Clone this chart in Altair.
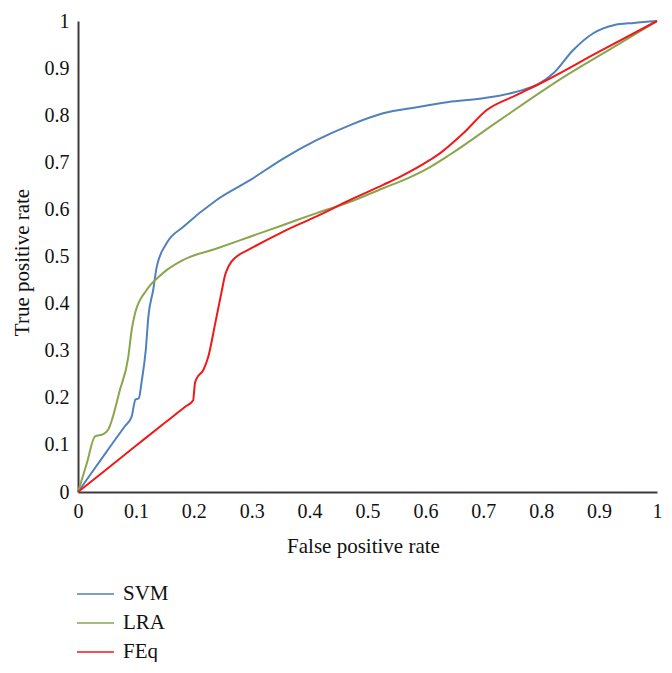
import altair as alt
import pandas as pd

svm_x = [0, 0.03, 0.06, 0.08, 0.0927, 0.0956, 0.099, 0.105, 0.110, 0.117, 0.1215, 0.130, 0.136,
         0.153, 0.182, 0.2395, 0.297, 0.3546, 0.412, 0.470, 0.527, 0.585, 0.640, 0.700, 0.758,
         0.798, 0.821, 0.855, 0.89, 0.925, 0.96, 1.0]
svm_y = [0, 0.052, 0.104, 0.138, 0.160, 0.178, 0.196, 0.199, 0.235, 0.301, 0.372, 0.430, 0.478,
         0.528, 0.563, 0.620, 0.662, 0.708, 0.747, 0.779, 0.804, 0.817, 0.828, 0.836, 0.850,
         0.868, 0.889, 0.938, 0.974, 0.991, 0.996, 1.0]

lra_x = [0, 0.015, 0.0294, 0.0437, 0.052, 0.0725, 0.0869, 0.0927, 0.0984, 0.1186, 0.1416, 0.153,
         0.182, 0.2395, 0.297, 0.3546, 0.412, 0.470, 0.527, 0.556, 0.608, 0.642, 0.729,
         0.844, 0.92, 1.0]
lra_y = [0, 0.060, 0.118, 0.123, 0.132, 0.217, 0.287, 0.344, 0.379, 0.429, 0.459, 0.471,
         0.493, 0.517, 0.542, 0.567, 0.592, 0.616, 0.645, 0.659, 0.690, 0.716, 0.790,
         0.885, 0.941, 1.0]

feq_x = [0, 0.05, 0.10, 0.15, 0.185, 0.199, 0.2005, 0.202, 0.205, 0.2165, 0.225, 0.237, 0.248,
         0.254, 0.2568, 0.265, 0.274, 0.297, 0.3546, 0.412, 0.470, 0.527, 0.556, 0.608, 0.625,
         0.665, 0.706, 0.758, 0.804, 0.90, 1.0]
feq_y = [0, 0.049, 0.098, 0.147, 0.181, 0.195, 0.213, 0.231, 0.241, 0.259, 0.287, 0.358, 0.425,
         0.460, 0.470, 0.489, 0.500, 0.516, 0.553, 0.585, 0.620, 0.652, 0.669, 0.705, 0.719,
         0.761, 0.811, 0.843, 0.871, 0.935, 1.0]

models = ["SVM", "LRA", "FEq"]
colors = ["#4F81BD", "#8AA64C", "#F01818"]
ticks = [0, 0.1, 0.2, 0.3, 0.4, 0.5, 0.6, 0.7, 0.8, 0.9, 1]

rows = []
for name, xs, ys in [("SVM", svm_x, svm_y), ("LRA", lra_x, lra_y), ("FEq", feq_x, feq_y)]:
    for i, (a, b) in enumerate(zip(xs, ys)):
        rows.append({"model": name, "fpr": a, "tpr": b, "order": i})
df = pd.DataFrame(rows)

FONT = "Liberation Serif"

axis_common = dict(
    grid=False, ticks=False, domainColor="#3c3c3c", domainWidth=2,
    labelFont=FONT, labelFontSize=20, labelColor="#111", titleFont=FONT,
    titleFontSize=21, titleFontWeight="normal", titleColor="#111",
    values=ticks, format="~g", labelOverlap=False, labelFlush=False,
)

chart = alt.Chart(df).mark_line(interpolate="monotone", strokeWidth=2).encode(
    x=alt.X("fpr:Q", scale=alt.Scale(domain=[0, 1], nice=False),
            axis=alt.Axis(title="False positive rate", labelPadding=9, titleY=43, titleX=285,
                          titleBaseline="top", **axis_common)),
    y=alt.Y("tpr:Q", scale=alt.Scale(domain=[0, 1], nice=False),
            axis=alt.Axis(title="True positive rate", labelPadding=9, titleX=-56,
                          titleY=241, titleBaseline="middle", **axis_common)),
    color=alt.Color("model:N", sort=models,
                    scale=alt.Scale(domain=models, range=colors),
                    legend=alt.Legend(title=None, orient="none", legendX=-2, legendY=563,
                                      symbolType="stroke", symbolSize=1369,
                                      symbolStrokeWidth=1.6, clipHeight=20, rowPadding=8,
                                      labelFont=FONT, labelFontSize=21, labelColor="#111",
                                      labelOffset=8)),
    order="order:Q",
).properties(
    width=579, height=471,
    autosize=alt.AutoSizeParams(type="none"),
    padding={"left": 70, "top": 13, "right": 7, "bottom": 170},
).configure_view(stroke=None)

chart.save("out.html", embed_options={"renderer": "svg", "actions": False})
